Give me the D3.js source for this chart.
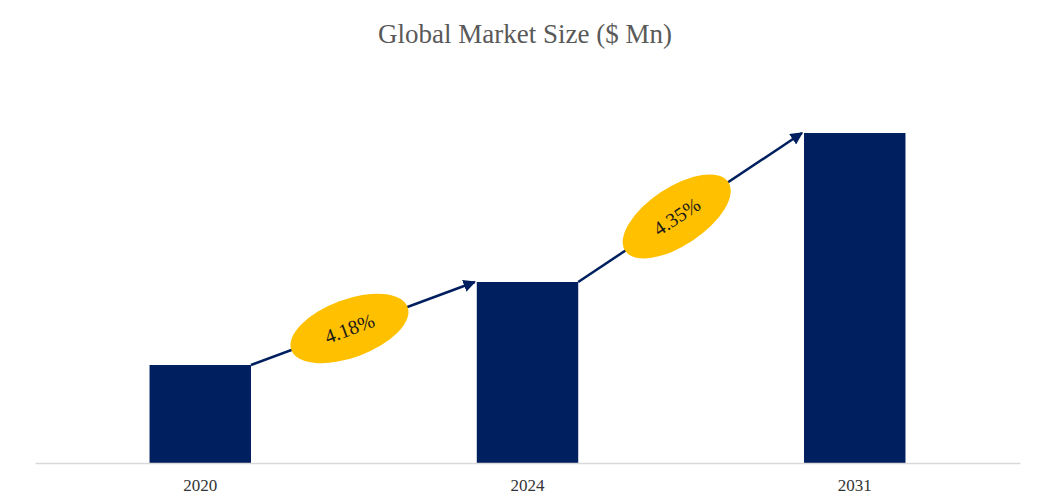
<!DOCTYPE html>
<html>
<head>
<meta charset="utf-8">
<script src="https://cdn.jsdelivr.net/npm/d3@7"></script>
<style>
  body { margin: 0; background: #fff; }
  text { font-family: "Liberation Serif", "Times New Roman", serif; }
</style>
</head>
<body>
<svg id="chart" width="1051" height="502"></svg>
<script>
var years = ["2020", "2024", "2031"];
var sizes = [98, 181, 330];          // relative market size
var cagrLabels = ["4.18%", "4.35%"];

var svg = d3.select("#chart");
var baseY = 463;

var x = d3.scaleBand()
    .domain(years)
    .range([35, 1020])
    .paddingInner(0.69)
    .paddingOuter(0.35);

var y = d3.scaleLinear()
    .domain([0, 330])
    .range([baseY, 133]);

svg.append("text")
    .attr("x", 525)
    .attr("y", 43)
    .attr("text-anchor", "middle")
    .attr("fill", "#595959")
    .style("font-size", "27px")
    .text("Global Market Size ($ Mn)");

svg.selectAll(".bar")
    .data(years)
    .enter()
    .append("rect")
    .attr("class", "bar")
    .attr("x", function(d) { return x(d); })
    .attr("y", function(d, i) { return y(sizes[i]); })
    .attr("width", x.bandwidth())
    .attr("height", function(d, i) { return baseY - y(sizes[i]); })
    .attr("fill", "#001f5f");

var axis = svg.append("g")
    .attr("transform", "translate(0," + baseY + ")")
    .call(d3.axisBottom(x).tickSize(0).tickPadding(16));
axis.select(".domain").attr("stroke", "#d9d9d9").attr("stroke-width", 1.5);
axis.selectAll("text")
    .style("font-size", "17px")
    .style("font-family", "Liberation Serif, serif")
    .attr("fill", "#333");

svg.append("defs").append("marker")
    .attr("id", "arrow")
    .attr("viewBox", "0 0 10 10")
    .attr("refX", 9).attr("refY", 5)
    .attr("markerWidth", 5).attr("markerHeight", 5)
    .attr("orient", "auto")
    .append("path")
    .attr("d", "M0,0L10,5L0,10z")
    .attr("fill", "#001f5f");

cagrLabels.forEach(function(label, i) {
    var x1 = x(years[i]) + x.bandwidth(), y1 = y(sizes[i]);
    var x2 = x(years[i + 1]) - 2, y2 = y(sizes[i + 1]);
    svg.append("line")
        .attr("x1", x1).attr("y1", y1)
        .attr("x2", x2).attr("y2", y2)
        .attr("stroke", "#001f5f")
        .attr("stroke-width", 2.5)
        .attr("marker-end", "url(#arrow)");
    var t = 0.44;
    var cx = x1 + (x2 - x1) * t, cy = y1 + (y2 - y1) * t;
    var ang = Math.atan2(y2 - y1, x2 - x1) * 180 / Math.PI;
    var g = svg.append("g")
        .attr("transform", "translate(" + cx + "," + cy + ") rotate(" + ang + ")");
    g.append("ellipse")
        .attr("rx", 62).attr("ry", 29)
        .attr("fill", "#ffc000");
    g.append("text")
        .attr("text-anchor", "middle")
        .attr("dy", "0.35em")
        .style("font-size", "20px")
        .attr("fill", "#1a1a1a")
        .text(label);
});
</script>
</body>
</html>
